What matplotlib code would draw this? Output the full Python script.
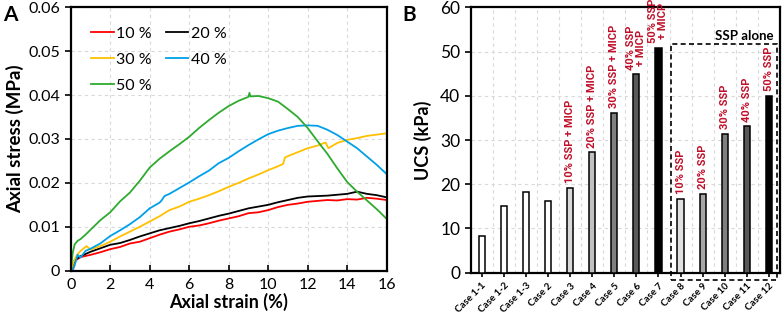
import numpy as np
import matplotlib
matplotlib.use("Agg")
import matplotlib.pyplot as plt
from matplotlib.patches import Rectangle

plt.rcParams['font.family'] = ['Lato', 'DejaVu Sans']

# ---- panel A: stress-strain curves ----
x10 = [0, 0.2, 0.5, 1.0, 1.5, 2.0, 2.5, 3.0, 3.5, 4.0, 4.5, 5.0, 5.5, 6.0, 6.5, 7.0, 7.5, 8.0,
       8.5, 9.0, 9.5, 10.0, 10.5, 11.0, 11.5, 12.0, 12.5, 13.0, 13.5, 14.0, 14.5, 15.0, 15.5, 16.0]
y10 = [0, 0.0022, 0.0031, 0.0036, 0.0042, 0.0049, 0.0054, 0.0062, 0.0066, 0.0074, 0.0082, 0.0089,
       0.0094, 0.0100, 0.0103, 0.0108, 0.0114, 0.0119, 0.0124, 0.0131, 0.0133, 0.0138, 0.0145,
       0.0150, 0.0153, 0.0157, 0.0159, 0.0161, 0.0160, 0.0163, 0.0162, 0.0166, 0.0164, 0.0161]

x20 = [0, 0.2, 0.5, 1.0, 1.5, 2.0, 2.5, 3.0, 3.5, 4.0, 4.5, 5.0, 5.5, 6.0, 6.5, 7.0, 7.5, 8.0,
       8.5, 9.0, 9.5, 10.0, 10.5, 11.0, 11.5, 12.0, 12.5, 13.0, 13.5, 14.0, 14.5, 15.0, 15.5, 16.0]
y20 = [0, 0.0024, 0.0033, 0.0043, 0.0051, 0.0059, 0.0063, 0.0070, 0.0078, 0.0085, 0.0092, 0.0097,
       0.0102, 0.0108, 0.0113, 0.0119, 0.0125, 0.0130, 0.0136, 0.0142, 0.0146, 0.0150, 0.0156,
       0.0161, 0.0166, 0.0169, 0.0170, 0.0171, 0.0173, 0.0175, 0.0180, 0.0175, 0.0172, 0.0167]

x30 = [0, 0.15, 0.3, 0.5, 0.8, 1.0, 1.5, 2.0, 2.5, 3.0, 3.5, 4.0, 4.5, 5.0, 5.5, 6.0, 6.5, 7.0,
       7.5, 8.0, 8.5, 9.0, 9.5, 10.0, 10.5, 10.75, 10.85, 11.0, 11.5, 12.0, 12.5, 12.9, 13.05,
       13.5, 14.0, 14.5, 15.0, 15.5, 16.0]
y30 = [0, 0.0020, 0.0035, 0.0045, 0.0056, 0.0048, 0.0056, 0.0066, 0.0078, 0.0089, 0.0100, 0.0112,
       0.0124, 0.0138, 0.0146, 0.0157, 0.0164, 0.0172, 0.0181, 0.0191, 0.0200, 0.0210, 0.0219,
       0.0229, 0.0238, 0.0243, 0.0258, 0.0261, 0.0270, 0.0279, 0.0285, 0.0292, 0.0279, 0.0291,
       0.0298, 0.0302, 0.0307, 0.0310, 0.0313]

x40 = [0, 0.1, 0.2, 0.35, 0.5, 0.75, 1.0, 1.5, 2.0, 2.5, 3.0, 3.5, 4.0, 4.5, 4.6, 4.75, 5.0, 5.5,
       6.0, 6.5, 7.0, 7.5, 8.0, 8.5, 9.0, 9.5, 10.0, 10.5, 11.0, 11.5, 12.0, 12.5, 13.0, 13.5,
       14.0, 14.5, 15.0, 15.5, 16.0]
y40 = [0, 0.0, 0.0012, 0.0036, 0.0030, 0.0045, 0.0050, 0.0062, 0.0079, 0.0092, 0.0106, 0.0122,
       0.0142, 0.0155, 0.0160, 0.0170, 0.0175, 0.0188, 0.0201, 0.0215, 0.0228, 0.0245, 0.0257,
       0.0272, 0.0286, 0.0299, 0.0311, 0.0319, 0.0325, 0.0330, 0.0331, 0.0330, 0.0321, 0.0309,
       0.0294, 0.0279, 0.0260, 0.0241, 0.0220]

x50 = [0, 0.1, 0.2, 0.35, 0.5, 0.75, 1.0, 1.5, 2.0, 2.5, 3.0, 3.5, 4.0, 4.5, 5.0, 5.5, 6.0, 6.5,
       7.0, 7.5, 8.0, 8.5, 9.0, 9.05, 9.1, 9.5, 10.0, 10.5, 11.0, 11.5, 12.0, 12.5, 13.0, 13.5,
       14.0, 14.5, 15.0, 15.5, 16.0]
y50 = [0, 0.0040, 0.0060, 0.0068, 0.0072, 0.0082, 0.0093, 0.0115, 0.0133, 0.0158, 0.0178, 0.0205,
       0.0235, 0.0255, 0.0272, 0.0288, 0.0305, 0.0325, 0.0343, 0.0360, 0.0375, 0.0387, 0.0396,
       0.0405, 0.0397, 0.0398, 0.0393, 0.0385, 0.0368, 0.0350, 0.0325, 0.0295, 0.0266, 0.0233,
       0.0202, 0.0180, 0.0160, 0.0140, 0.0118]

curve_labels = ['10 %', '20 %', '30 %', '40 %', '50 %']
curve_colors = ['#ff0000', '#000000', '#ffc000', '#00a0e8', '#2eaa2e']

# ---- panel B: UCS bars ----
cases = ['Case 1-1', 'Case 1-2', 'Case 1-3', 'Case 2', 'Case 3', 'Case 4', 'Case 5',
         'Case 6', 'Case 7', 'Case 8', 'Case 9', 'Case 10', 'Case 11', 'Case 12']
ucs = [8.3, 15.0, 18.2, 16.2, 19.2, 27.2, 36.2, 44.9, 50.9, 16.7, 17.9, 31.4, 33.1, 40.0]
bar_colors = ['#ffffff', '#ffffff', '#ffffff', '#ffffff', '#d9d9d9', '#c0c0c0', '#808080',
              '#5a5a5a', '#000000', '#e0e0e0', '#a6a6a6', '#7f7f7f', '#595959', '#000000']
bar_notes = ['', '', '', '', '10% SSP + MICP', '20% SSP + MICP', '30% SSP + MICP',
             '40% SSP\n+ MICP', '50% SSP\n+ MICP', '10% SSP', '20% SSP', '30% SSP',
             '40% SSP', '50% SSP']

fig = plt.figure(figsize=(7.82, 3.27), dpi=100)

# ---------- A ----------
axA = fig.add_axes([0.0904, 0.1722, 0.4041, 0.8055])
series = [(x10, y10), (x20, y20), (x30, y30), (x40, y40), (x50, y50)]
lines = []
for (xs, ys), lab, c in zip(series, curve_labels, curve_colors):
    ln, = axA.plot(xs, ys, color=c, lw=1.3, label=lab)
    lines.append(ln)
axA.set_xlim(0, 16)
axA.set_ylim(0, 0.06)
axA.set_xticks(np.arange(0, 17, 2))
axA.set_yticks([0, 0.01, 0.02, 0.03, 0.04, 0.05, 0.06])
axA.set_yticklabels(['0', '0.01', '0.02', '0.03', '0.04', '0.05', '0.06'])
axA.tick_params(axis='x', direction='in', length=4, width=1.2, labelsize=11.5, pad=5)
axA.tick_params(axis='y', direction='out', length=4, width=1.2, labelsize=11.5)
axA.grid(True, color='#d9d9d9', ls=(0, (3, 3)), lw=0.8)
axA.set_axisbelow(True)
for s in axA.spines.values():
    s.set_linewidth(1.6)
axA.set_xlabel('Axial strain (%)', fontsize=13, fontweight='bold', labelpad=1)
axA.set_ylabel('Axial stress (MPa)', fontsize=13.5, fontweight='bold', labelpad=3)
order = [0, 2, 4, 1, 3]
axA.legend([lines[i] for i in order], [curve_labels[i] for i in order], ncol=2,
           loc='upper left', bbox_to_anchor=(0.03, 0.97), frameon=False, fontsize=11.5,
           handlelength=1.4, handletextpad=0.15, columnspacing=0.9, labelspacing=0.75,
           borderpad=0.2)
fig.text(0.004, 0.985, 'A', fontsize=15, fontweight='bold', va='top', ha='left')

# ---------- B ----------
axB = fig.add_axes([0.6019, 0.166, 0.3955, 0.8117])
xpos = np.arange(len(cases))
axB.bar(xpos, ucs, width=0.28, color=bar_colors, edgecolor='black', lw=1.1, zorder=3)
axB.set_xlim(-0.5, 13.5)
axB.set_ylim(0, 60)
axB.set_yticks(np.arange(0, 61, 10))
axB.set_xticks(xpos)
axB.set_xticklabels(cases, rotation=45, ha='right', rotation_mode='anchor',
                    fontsize=7, fontweight='bold')
axB.set_xticks(xpos[:-1] + 0.5, minor=True)
axB.tick_params(axis='x', which='major', direction='out', length=3, width=1.2, pad=3)
axB.tick_params(axis='x', which='minor', length=0)
axB.tick_params(axis='y', direction='out', length=4, width=1.2, labelsize=12.5)
axB.grid(True, axis='y', color='#d9d9d9', ls=(0, (3, 3)), lw=0.8)
axB.grid(True, axis='x', which='minor', color='#d9d9d9', ls=(0, (3, 3)), lw=0.8)
axB.set_axisbelow(True)
for s in axB.spines.values():
    s.set_linewidth(1.6)
axB.set_ylabel('UCS (kPa)', fontsize=13, fontweight='bold', labelpad=6)

for xi, v, note in zip(xpos, ucs, bar_notes):
    if note:
        axB.text(xi, v + 1.0, note, rotation=90, ha='center', va='bottom',
                 fontsize=8, fontweight='bold', color='#c0102a',
                 family=['Roboto', 'DejaVu Sans'], linespacing=1.0,
                 clip_on=False, zorder=4)

box = Rectangle((8.55, -1.65), 13.38 - 8.55, 51.8 + 1.65, fill=False, ec='black',
                ls=(0, (3, 2)), lw=1.2, clip_on=False, zorder=5)
axB.add_patch(box)
axB.text(13.2, 53.6, 'SSP alone', ha='right', va='center', fontsize=9.5,
         fontweight='bold', color='black')
fig.text(0.514, 0.985, 'B', fontsize=15, fontweight='bold', va='top', ha='left')

fig.savefig('out.png', dpi=100)
